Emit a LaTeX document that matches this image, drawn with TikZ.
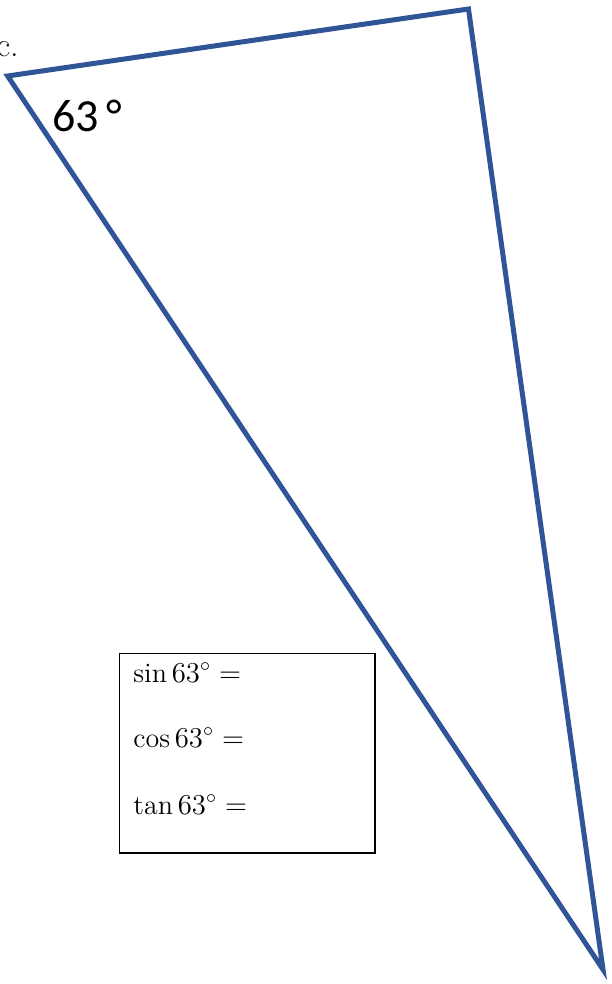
\documentclass[tikz,border=0pt]{standalone}
\usepackage{fontspec}
\newfontfamily\calfont{Carlito}
\usetikzlibrary{positioning}
\definecolor{triblue}{HTML}{2F5597}
\tikzset{
  side/.style={draw=triblue, line width=2.5pt, line join=miter},
  ansbox/.style={draw=black, line width=0.7pt},
  eqn/.style={font=\fontsize{14}{16}\selectfont, anchor=base west, inner sep=0pt},
  angtag/.style={font=\calfont\fontsize{23}{26}\selectfont, anchor=base west, inner sep=0pt},
}
\begin{document}
\begin{tikzpicture}[x=0.5pt, y=-0.5pt]
    \useasboundingbox (0,0) rectangle (611,984);
    % part label, cut at the page edge as in the worksheet
    \node[font=\fontsize{17}{19}\selectfont, anchor=base east, inner sep=0pt] (part) at (19,57) {c.};
    % the triangle
    \coordinate (A) at (7.6,76);
    \coordinate (B) at (468.5,9);
    \coordinate (C) at (603,969.5);
    \draw[side] (A) -- (B) -- (C) -- cycle;
    \node[angtag] (ang) at (52,132) {63\,°};
    % answer box
    \draw[ansbox] (119.5,653.5) rectangle (375,853);
    \node[eqn] (sin) at (133,682) {$\sin 63^\circ =$};
    \node[eqn] (cos) at (133,747) {$\cos 63^\circ =$};
    \node[eqn] (tan) at (133,814) {$\tan 63^\circ =$};
\end{tikzpicture}
\end{document}
